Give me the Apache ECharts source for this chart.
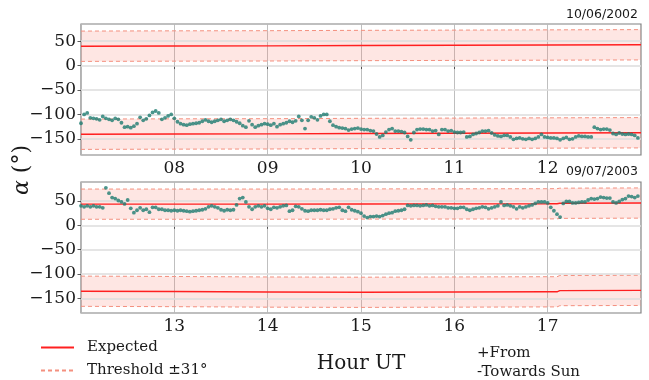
<!DOCTYPE html>
<html>
<head>
<meta charset="utf-8">
<script src="https://cdn.jsdelivr.net/npm/echarts@6/dist/echarts.min.js"></script>
<style>
  html, body { margin: 0; padding: 0; background: #ffffff; }
  #chart { width: 649px; height: 380px; }
</style>
</head>
<body>
<div id="chart"></div>
<script>
// Sun-direction angle alpha (degrees) sampled every 2 minutes, two observing days.
const STEP_H = 2 / 60;
const THRESH = 31;

const topDate = '10/06/2002';
const topStartHour = 7;
const topAlpha = [
  -118, -100, -97, -107, -108, -109, -111, -104, -108, -110,
  -112, -108, -110, -117, -126, -125, -127, -124, -119, -106,
  -112, -109, -102, -96, -93, -97, -110, -107, -103, -100,
  -108, -115, -119, -121, -122, -120, -119, -118, -117, -114,
  -111, -114, -116, -114, -112, -110, -114, -112, -110, -112,
  -115, -118, -123, -126, -113, -121, -126, -123, -121, -119,
  -120, -122, -119, -125, -121, -119, -117, -114, -116, -113,
  -104, -112, -129, -112, -105, -107, -111, -103, -100, -100,
  -114, -122, -125, -127, -128, -129, -132, -130, -129, -128,
  -130, -131, -131, -133, -134, -140, -146, -143, -136, -131,
  -129, -134, -134, -135, -137, -145, -152, -137, -131, -130,
  -130, -131, -131, -134, -133, -141, -131, -131, -134, -133,
  -136, -137, -137, -136, -146, -145, -141, -139, -137, -134,
  -134, -133, -138, -142, -144, -145, -143, -143, -146, -151,
  -149, -148, -150, -151, -149, -151, -149, -146, -141, -146,
  -147, -148, -148, -149, -152, -149, -147, -151, -150, -146,
  -144, -145, -145, -146, -146, -126, -129, -131, -130, -130,
  -132, -139, -141, -138, -140, -141, -140, -141, -143, -148
];
// Expected directions (from / towards the Sun)
const topExpHours = [7, 8, 9, 10, 11, 12, 13];
const topExpFrom = [39.5, 40, 40.3, 41, 41.5, 42, 42.5];
const topExpTowards = [-140.5, -140, -139.7, -139, -138.5, -138, -137.5];

const botDate = '09/07/2003';
const botStartHour = 12;
const botAlpha = [
  40, 38, 40, 38, 40, 38, 38, 36, 77, 66,
  57, 55, 51, 48, 44, 52, 35, 26, 31, 36,
  31, 33, 27, 37, 37, 33, 33, 31, 31, 30,
  31, 30, 31, 30, 29, 28, 29, 30, 31, 32,
  34, 38, 40, 38, 36, 32, 30, 32, 31, 32,
  42, 55, 57, 48, 38, 33, 38, 40, 38, 40,
  35, 33, 37, 36, 38, 40, 41, 29, 31, 39,
  38, 34, 30, 29, 31, 31, 31, 32, 31, 31,
  33, 34, 36, 37, 31, 29, 37, 32, 30, 28,
  25, 19, 16, 18, 18, 19, 18, 20, 23, 25,
  26, 29, 30, 31, 33, 41, 40, 41, 41, 40,
  41, 42, 40, 41, 39, 38, 38, 38, 36, 36,
  35, 35, 37, 37, 33, 31, 33, 35, 36, 38,
  37, 34, 36, 38, 40, 48, 41, 42, 40, 38,
  34, 38, 36, 38, 40, 42, 45, 48, 48, 48,
  46, 37, 30, 23, 17, 45, 49, 49, 46, 46,
  47, 48, 48, 52, 55, 54, 55, 58, 57, 56,
  56, 48, 46, 49, 53, 55, 60, 59, 57, 60
];
const botExpHours = [12, 13, 14, 15, 16, 17, 17.1, 17.13, 18];
const botExpFrom = [43.5, 43.5, 43.5, 43.8, 44, 44.2, 44.3, 45.3, 45.8];
const botExpTowards = [-135.3, -136, -137, -137.5, -137, -136.5, -136.5, -134, -133.5];

const yTicks = [-150, -100, -50, 0, 50];
const topYRange = [-183, 85];
const botYRange = [-180, 89];

const SERIF = '"DejaVu Serif", "Liberation Serif", serif';
const SANS = '"DejaVu Sans", sans-serif';
const RED = '#ff2020';
const SALMON = '#f4907f';
const BAND = 'rgba(250, 128, 114, 0.2)';
const DOT = '#1e7c70';
const TEXT = '#1a1a1a';
const THRESH_NAME = 'Threshold \u00b131\u00b0';

const panels = [
  { start: topStartHour, alpha: topAlpha, expH: topExpHours, expFrom: topExpFrom, expTo: topExpTowards, yRange: topYRange },
  { start: botStartHour, alpha: botAlpha, expH: botExpHours, expFrom: botExpFrom, expTo: botExpTowards, yRange: botYRange }
];

const minus = v => String(v).replace('-', '\u2212');
const hourLabel = v => String(v).padStart(2, '0');

const grids = [
  { left: 81, top: 24, width: 560, height: 131 },
  { left: 81, top: 182, width: 560, height: 131 }
].map(g => Object.assign(g, { show: true, borderColor: '#808080', borderWidth: 1.2, containLabel: false }));

const xAxes = panels.map((p, i) => ({
  type: 'value', gridIndex: i, min: p.start, max: p.start + 6, interval: 1,
  axisLine: { show: false },
  axisTick: { show: true, length: 3.5, lineStyle: { color: '#333', width: 0.8 } },
  axisLabel: { formatter: hourLabel, showMinLabel: false, showMaxLabel: false, margin: 5,
    fontFamily: SERIF, fontSize: 17, color: TEXT },
  splitLine: { show: true, lineStyle: { color: '#b8b8b8', width: 0.9 } }
}));

const yAxes = panels.map((p, i) => ({
  type: 'value', gridIndex: i, min: p.yRange[0], max: p.yRange[1],
  axisLine: { show: false },
  axisTick: { show: true, length: 3.5, customValues: yTicks, lineStyle: { color: '#333', width: 0.8 } },
  axisLabel: { customValues: yTicks, formatter: minus, margin: 5, fontFamily: SERIF, fontSize: 17, color: TEXT },
  splitLine: { show: false }
}));

// shaded polygon between expected - THRESH and expected + THRESH
function bandRenderer(hours, exp) {
  return function (params, api) {
    if (params.dataIndex !== 0) return null;
    const upper = hours.map((h, j) => api.coord([h, exp[j] + THRESH]));
    const lower = hours.map((h, j) => api.coord([h, exp[j] - THRESH])).reverse();
    return { type: 'polygon', shape: { points: upper.concat(lower) }, style: { fill: BAND }, silent: true };
  };
}

const series = [];
panels.forEach((p, gi) => {
  // horizontal grid lines at the labelled ticks
  series.push({
    type: 'line', xAxisIndex: gi, yAxisIndex: gi, data: [], silent: true, z: 1,
    markLine: {
      silent: true, symbol: 'none', animation: false, label: { show: false },
      lineStyle: { color: '#dcdcdc', width: 1.5, type: 'solid' },
      data: yTicks.map(v => ({ yAxis: v }))
    }
  });
  [p.expFrom, p.expTo].forEach(exp => {
    series.push({
      type: 'custom', xAxisIndex: gi, yAxisIndex: gi, z: 2, silent: true,
      renderItem: bandRenderer(p.expH, exp),
      data: p.expH.map((h, j) => [h, exp[j]])
    });
    [-THRESH, THRESH].forEach(d => {
      series.push({
        type: 'line', name: THRESH_NAME, xAxisIndex: gi, yAxisIndex: gi,
        symbol: 'none', silent: true, z: 3,
        data: p.expH.map((h, j) => [h, exp[j] + d]),
        lineStyle: { color: SALMON, width: 1, type: [4, 3] }
      });
    });
    series.push({
      type: 'line', name: 'Expected', xAxisIndex: gi, yAxisIndex: gi,
      symbol: 'none', silent: true, z: 4,
      data: p.expH.map((h, j) => [h, exp[j]]),
      lineStyle: { color: RED, width: 1.4 }
    });
  });
  // measured alpha
  series.push({
    type: 'scatter', name: 'alpha', xAxisIndex: gi, yAxisIndex: gi, z: 6,
    symbolSize: 3.8, silent: true,
    itemStyle: { color: DOT },
    data: p.alpha.map((v, j) => [p.start + j * STEP_H, v])
  });
});

const chart = echarts.init(document.getElementById('chart'), null, { renderer: 'canvas' });
chart.setOption({
  animation: false,
  backgroundColor: '#ffffff',
  grid: grids,
  xAxis: xAxes,
  yAxis: yAxes,
  series: series,
  legend: {
    orient: 'vertical', left: 40, top: 340, padding: 0, itemWidth: 33, itemHeight: 14, itemGap: 8,
    selectedMode: false,
    data: [
      { name: 'Expected', itemStyle: { opacity: 0 } },
      { name: THRESH_NAME, itemStyle: { opacity: 0 } }
    ],
    textStyle: { fontFamily: SERIF, fontSize: 15, color: TEXT, padding: [0, 0, 0, 8] }
  },
  graphic: [
    { type: 'text', right: 11, top: 8, style: { text: topDate, font: '12.5px ' + SANS, fill: TEXT } },
    { type: 'text', right: 11, top: 165, style: { text: botDate, font: '12.5px ' + SANS, fill: TEXT } },
    { type: 'text', x: 361, y: 364, style: { text: 'Hour UT', font: '20px ' + SERIF, fill: TEXT, align: 'center', verticalAlign: 'middle' } },
    { type: 'text', x: 477, y: 353, style: { text: '+From', font: '15px ' + SERIF, fill: TEXT, verticalAlign: 'middle' } },
    { type: 'text', x: 477, y: 372, style: { text: '-Towards Sun', font: '15px ' + SERIF, fill: TEXT, verticalAlign: 'middle' } },
    { type: 'text', x: 22, y: 170, rotation: Math.PI / 2,
      style: { text: '{a|\u03b1} (\u00b0)', font: '22px ' + SERIF, fill: TEXT, align: 'center', verticalAlign: 'middle',
        rich: { a: { font: 'italic 22px ' + SERIF, fill: TEXT } } } }
  ]
});
</script>
</body>
</html>
